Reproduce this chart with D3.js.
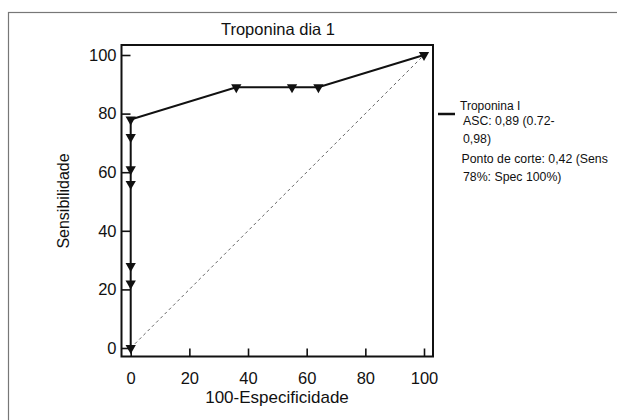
<!DOCTYPE html>
<html>
<head>
<meta charset="utf-8">
<script src="https://cdn.jsdelivr.net/npm/d3@7"></script>
<style>
  body { margin: 0; background: #fff; }
  text { font-family: "Liberation Sans", Arial, sans-serif; fill: #111; }
</style>
</head>
<body>
<svg id="svg" width="617" height="420"></svg>
<script>
// ROC points (100-especificidade, sensibilidade)
const fpr  = [0, 0, 0, 0, 0, 0, 0, 36, 55, 64, 100];
const sens = [0, 22, 28, 56, 61, 72, 78, 89, 89, 89, 100];
const xTicks = [0, 20, 40, 60, 80, 100];
const yTicks = [0, 20, 40, 60, 80, 100];
const legendLines = [
    'ASC: 0,89 (0.72-',
    '0,98)',
    'Ponto de corte: 0,42 (Sens',
    '78%: Spec 100%)'
];

const svg = d3.select('#svg');

// outer frame of the figure
svg.append('rect')
    .attr('x', 8.5).attr('y', 12.5)
    .attr('width', 640).attr('height', 440)
    .attr('fill', 'none')
    .attr('stroke', '#777')
    .attr('stroke-width', 1.2);

const x = d3.scaleLinear().domain([0, 100]).range([130.7, 424]);
const y = d3.scaleLinear().domain([0, 100]).range([348, 55]);

// plot box
svg.append('rect')
    .attr('x', 121.5).attr('y', 45)
    .attr('width', 311.5).attr('height', 311.5)
    .attr('fill', 'none')
    .attr('stroke', '#111')
    .attr('stroke-width', 2);

// x axis ticks (inward)
const xAxis = d3.axisBottom(x).tickValues(xTicks).tickSize(-8).tickPadding(16);
const gx = svg.append('g').attr('transform', 'translate(0,356.5)').call(xAxis);
gx.select('.domain').remove();
gx.selectAll('.tick line').attr('stroke', '#111').attr('stroke-width', 1.6);
gx.selectAll('.tick text')
    .attr('font-size', 16.5)
    .attr('font-family', '"Liberation Sans", Arial, sans-serif')
    .attr('fill', '#111');

// y axis ticks (inward)
const yAxis = d3.axisLeft(y).tickValues(yTicks).tickSize(-9).tickPadding(5);
const gy = svg.append('g').attr('transform', 'translate(121.5,0)').call(yAxis);
gy.select('.domain').remove();
gy.selectAll('.tick line').attr('stroke', '#111').attr('stroke-width', 1.6);
gy.selectAll('.tick text')
    .attr('font-size', 16.5)
    .attr('font-family', '"Liberation Sans", Arial, sans-serif')
    .attr('fill', '#111');

// diagonal reference
svg.append('line')
    .attr('x1', x(0)).attr('y1', y(0))
    .attr('x2', x(100)).attr('y2', y(100))
    .attr('stroke', '#666')
    .attr('stroke-width', 1)
    .attr('stroke-dasharray', '3,3');

// ROC curve
const pts = fpr.map((d, i) => [d, sens[i]]);
svg.append('path')
    .datum(pts)
    .attr('fill', 'none')
    .attr('stroke', '#111')
    .attr('stroke-width', 2)
    .attr('d', d3.line().x(d => x(d[0])).y(d => y(d[1])));

svg.selectAll('.pt')
    .data(pts)
    .join('path')
    .attr('class', 'pt')
    .attr('d', d3.symbol(d3.symbolTriangle, 46))
    .attr('transform', d => `translate(${x(d[0])},${y(d[1])}) rotate(180)`)
    .attr('fill', '#111');

// title & axis labels
svg.append('text')
    .attr('x', 278).attr('y', 35)
    .attr('text-anchor', 'middle')
    .attr('font-size', 16.5)
    .text('Troponina dia 1');

svg.append('text')
    .attr('x', 277).attr('y', 403)
    .attr('text-anchor', 'middle')
    .attr('font-size', 17)
    .text('100-Especificidade');

svg.append('text')
    .attr('transform', 'translate(69,201) rotate(-90)')
    .attr('text-anchor', 'middle')
    .attr('font-size', 16)
    .text('Sensibilidade');

// legend
svg.append('line')
    .attr('x1', 438).attr('x2', 455)
    .attr('y1', 114).attr('y2', 114)
    .attr('stroke', '#111')
    .attr('stroke-width', 2.5);

svg.append('text')
    .attr('x', 460).attr('y', 110)
    .attr('font-size', 12)
    .text('Troponina I');

svg.selectAll('.leg')
    .data(legendLines)
    .join('text')
    .attr('class', 'leg')
    .attr('x', (d, i) => i == 2 ? 461.5 : 463)
    .attr('y', (d, i) => [124.5, 143, 162.5, 181][i])
    .attr('font-size', 12.3)
    .text(d => d);
</script>
</body>
</html>
